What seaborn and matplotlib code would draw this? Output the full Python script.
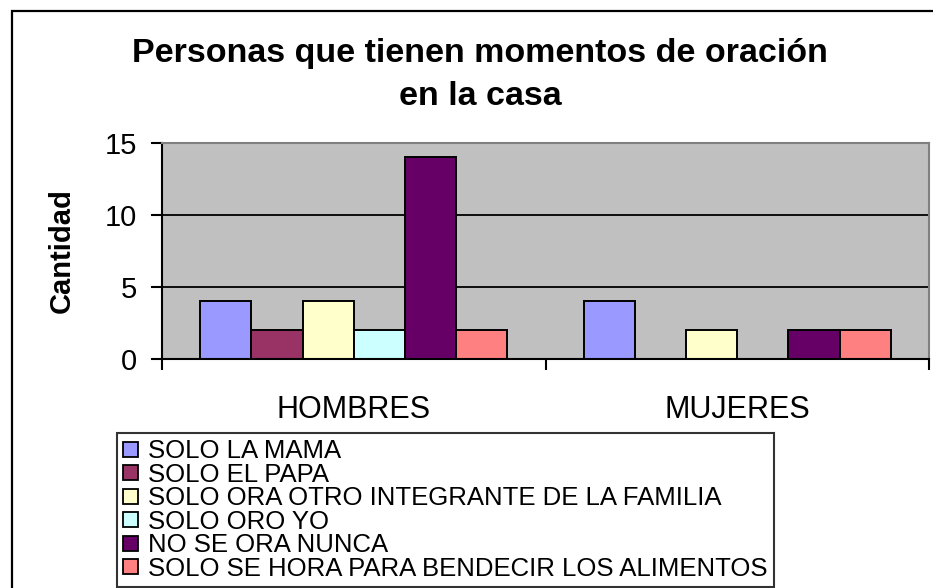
import pandas as pd
import seaborn as sns
import matplotlib.pyplot as plt
from matplotlib.patches import Patch, Rectangle

# datos del grafico
grupos = ["HOMBRES", "MUJERES"]
categorias = ["SOLO LA MAMA", "SOLO EL PAPA", "SOLO ORA OTRO INTEGRANTE DE LA FAMILIA",
              "SOLO ORO YO", "NO SE ORA NUNCA", "SOLO SE HORA PARA BENDECIR LOS ALIMENTOS"]
hombres = [4, 2, 4, 2, 14, 2]
mujeres = [4, 0, 2, 0, 2, 2]
colores = ["#9999FF", "#993366", "#FFFFCC", "#CCFFFF", "#660066", "#FF8080"]
titulo = "Personas que tienen momentos de oración\nen la casa"

df = pd.DataFrame({
    "grupo": [grupos[0]] * len(categorias) + [grupos[1]] * len(categorias),
    "categoria": categorias * 2,
    "cantidad": hombres + mujeres,
})

sns.set_style("white")
plt.rcParams["font.family"] = ["Liberation Sans", "DejaVu Sans"]
plt.rcParams["text.color"] = "black"
plt.rcParams["axes.labelcolor"] = "black"
plt.rcParams["xtick.color"] = "black"
plt.rcParams["ytick.color"] = "black"

fig = plt.figure(figsize=(9.33, 5.88), dpi=100)
ax = fig.add_axes([162 / 933, 1 - 359 / 588, 767 / 933, 216 / 588])
ax.set_facecolor("#C0C0C0")

sns.barplot(data=df, x="grupo", y="cantidad", hue="categoria", hue_order=categorias,
            palette=colores, saturation=1, edgecolor="black", linewidth=1.4, width=0.8,
            legend=False, ax=ax)

# ejes
ax.set_ylim(0, 15)
ax.set_yticks([0, 5, 10, 15])
ax.set_xlim(-0.5, 1.5)
ax.yaxis.grid(True, color="black", linewidth=1.3)
ax.set_axisbelow(True)
for s in ["left", "bottom"]:
    ax.spines[s].set_color("black")
    ax.spines[s].set_linewidth(1.5)
for s in ["top", "right"]:
    ax.spines[s].set_color("#808080")
    ax.spines[s].set_linewidth(1.5)

ax.tick_params(axis="y", direction="out", length=8, width=1.5, pad=10, labelsize=21, left=True)
ax.tick_params(axis="x", which="major", length=0, pad=26, labelsize=22)
ax.set_xticks([-0.5, 0.5, 1.5], minor=True)
ax.tick_params(axis="x", which="minor", direction="out", length=8, width=1.5, bottom=True)

ax.set_xlabel("")
ax.set_ylabel("Cantidad", fontsize=21, fontweight="bold")
ax.yaxis.set_label_coords(-0.112, 0.5)

# titulo
fig.text(480 / 933, 1 - 38 / 588, titulo, ha="center", va="top", fontsize=24.5,
         fontweight="bold", linespacing=1.48)

# leyenda
handles = [Patch(facecolor=c, edgecolor="black", linewidth=1.3) for c in colores]
leg = fig.legend(handles, categorias, loc="upper left", bbox_to_anchor=(117 / 933, 1 - 433 / 588),
                 fontsize=18.5, frameon=True, fancybox=False, borderpad=0.25, labelspacing=-0.02,
                 handlelength=0.55, handleheight=0.5, handletextpad=0.4, borderaxespad=0)
leg.get_frame().set_edgecolor("black")
leg.get_frame().set_linewidth(1.5)

# marco exterior del grafico
fig.add_artist(Rectangle((12 / 933, -0.05), 1.1, 1.05 - 11 / 588, transform=fig.transFigure,
                         facecolor="none", edgecolor="black", linewidth=1.6, clip_on=False))

fig.savefig("out.png", dpi=100)
